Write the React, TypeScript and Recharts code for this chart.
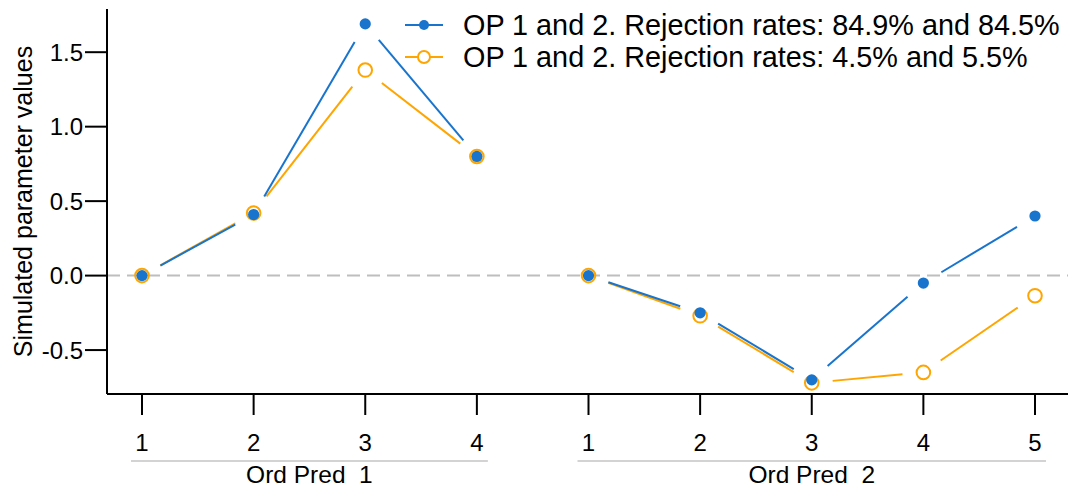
import { LineChart, Line, XAxis, YAxis, ReferenceLine } from 'recharts';

const LEVELS = ['1', '2', '3', '4', '1', '2', '3', '4', '5'];
const PREDICTOR = ['Ord Pred  1', 'Ord Pred  1', 'Ord Pred  1', 'Ord Pred  1', 'Ord Pred  2', 'Ord Pred  2', 'Ord Pred  2', 'Ord Pred  2', 'Ord Pred  2'];
const HIGH_REJECTION = [0, 0.41, 1.69, 0.8, 0, -0.25, -0.7, -0.05, 0.4];
const LOW_REJECTION = [0, 0.42, 1.38, 0.8, 0, -0.27, -0.72, -0.65, -0.135];
const Y_TICKS = [-0.5, 0, 0.5, 1, 1.5];

const HIGH_LABEL = 'OP 1 and 2. Rejection rates: 84.9% and 84.5%';
const LOW_LABEL = 'OP 1 and 2. Rejection rates: 4.5% and 5.5%';

const BLUE = '#1874CD';
const ORANGE = '#FFA500';
const FONT = '"Liberation Sans", Arial, Helvetica, sans-serif';

const WIDTH = 1068;
const HEIGHT = 488;
const PAD_LEFT = 35;
const PAD_RIGHT = 33;
const Y_AXIS_W = 107;
// distance between neighbouring categories on the point scale
const STEP = (WIDTH - Y_AXIS_W - PAD_LEFT - PAD_RIGHT) / (LEVELS.length - 1);
const GAP = 21; // blank space kept around each marker (type = "b")

const data = LEVELS.map((level, i) => ({
    key: i,
    level,
    predictor: PREDICTOR[i],
    high: HIGH_REJECTION[i],
    low: LOW_REJECTION[i],
}));

// marker plus the segment to the next point of the same predictor
const makeDot = (color: string, open: boolean) => (props: any) => {
    const { cx, cy, index, points } = props;
    let seg = null;
    const next = points && points[index + 1];
    if (next && PREDICTOR[index] === PREDICTOR[index + 1]) {
        const dx = next.x - cx;
        const dy = next.y - cy;
        const len = Math.sqrt(dx * dx + dy * dy);
        if (len > GAP * 2) {
            const ux = dx / len;
            const uy = dy / len;
            seg = (
                <line
                    x1={cx + ux * GAP}
                    y1={cy + uy * GAP}
                    x2={next.x - ux * GAP}
                    y2={next.y - uy * GAP}
                    stroke={color}
                    strokeWidth={2}
                />
            );
        }
    }
    return (
        <g key={`dot-${color}-${index}`}>
            {seg}
            {open ? (
                <circle cx={cx} cy={cy} r={6.8} fill="none" stroke={color} strokeWidth={2} />
            ) : (
                <circle cx={cx} cy={cy} r={5.6} fill={color} stroke="none" />
            )}
        </g>
    );
};

const XTick = (props: any) => {
    const { x, payload, index } = props;
    const i = typeof payload?.index === 'number' ? payload.index : index;
    const first = i === 0 || PREDICTOR[i] !== PREDICTOR[i - 1];
    let group = null;
    if (first) {
        const n = PREDICTOR.filter((p) => p === PREDICTOR[i]).length;
        const x1 = x - 11;
        const x2 = x + (n - 1) * STEP + 11;
        group = (
            <g>
                <line x1={x1} y1={461} x2={x2} y2={461} stroke="#c4c4c4" strokeWidth={1.5} />
                <text
                    x={(x1 + x2) / 2}
                    y={483}
                    textAnchor="middle"
                    fontSize={24.5}
                    fontFamily={FONT}
                    fill="#000"
                    style={{ whiteSpace: 'pre' }}
                >
                    {PREDICTOR[i]}
                </text>
            </g>
        );
    }
    return (
        <g>
            <text x={x} y={442} textAnchor="middle" dominantBaseline="central" fontSize={24} fontFamily={FONT} fill="#000">
                {LEVELS[i]}
            </text>
            {group}
        </g>
    );
};

const YTitle = (props: any) => {
    const vb = props.viewBox || {};
    const cy = (vb.y ?? 9) + (vb.height ?? 385) / 2;
    return (
        <text
            x={23}
            y={cy}
            transform={`rotate(-90, 23, ${cy})`}
            textAnchor="middle"
            dominantBaseline="central"
            fontSize={25}
            fontFamily={FONT}
            fill="#000"
        >
            Simulated parameter values
        </text>
    );
};

function LegendRow({ color, open, label }: { color: string; open: boolean; label: string }) {
    return (
        <div style={{ display: 'flex', alignItems: 'center', height: 32 }}>
            <svg width={38} height={32} style={{ marginRight: 20 }}>
                <line x1={0} y1={16} x2={38} y2={16} stroke={color} strokeWidth={2} />
                {open ? (
                    <circle cx={19} cy={16} r={6} fill="#fff" stroke={color} strokeWidth={2} />
                ) : (
                    <circle cx={19} cy={16} r={5} fill={color} />
                )}
            </svg>
            <span style={{ fontSize: 28.8, lineHeight: '32px', whiteSpace: 'nowrap' }}>{label}</span>
        </div>
    );
}

export default function App() {
    return (
        <div
            style={{
                position: 'absolute',
                left: 0,
                top: 0,
                width: WIDTH,
                height: HEIGHT,
                background: '#fff',
                fontFamily: FONT,
                color: '#000',
            }}
        >
            <LineChart width={WIDTH} height={HEIGHT} data={data} margin={{ top: 9, right: 0, left: 0, bottom: 0 }}>
                <XAxis
                    dataKey="key"
                    type="category"
                    scale="point"
                    padding={{ left: PAD_LEFT, right: PAD_RIGHT }}
                    height={94}
                    interval={0}
                    axisLine={{ stroke: '#000', strokeWidth: 2 }}
                    tickLine={{ stroke: '#000', strokeWidth: 2 }}
                    tickSize={21}
                    tick={<XTick />}
                />
                <YAxis
                    type="number"
                    domain={[-0.795, 1.79]}
                    ticks={Y_TICKS}
                    interval={0}
                    width={Y_AXIS_W}
                    axisLine={{ stroke: '#000', strokeWidth: 2 }}
                    tickLine={{ stroke: '#000', strokeWidth: 2 }}
                    tickSize={22}
                    tickFormatter={(v: number) => v.toFixed(1)}
                    tick={{ fontSize: 24, fill: '#000', fontFamily: FONT }}
                    label={{ content: <YTitle /> }}
                />
                <ReferenceLine y={0} stroke="#bebebe" strokeWidth={2} strokeDasharray="13 7" />
                <Line
                    dataKey="low"
                    stroke="none"
                    isAnimationActive={false}
                    dot={makeDot(ORANGE, true)}
                    activeDot={false}
                    legendType="none"
                />
                <Line
                    dataKey="high"
                    stroke="none"
                    isAnimationActive={false}
                    dot={makeDot(BLUE, false)}
                    activeDot={false}
                    legendType="none"
                />
            </LineChart>

            {/* Legend */}
            <div style={{ position: 'absolute', left: 405, top: 9 }}>
                <LegendRow color={BLUE} open={false} label={HIGH_LABEL} />
                <LegendRow color={ORANGE} open={true} label={LOW_LABEL} />
            </div>
        </div>
    );
}
